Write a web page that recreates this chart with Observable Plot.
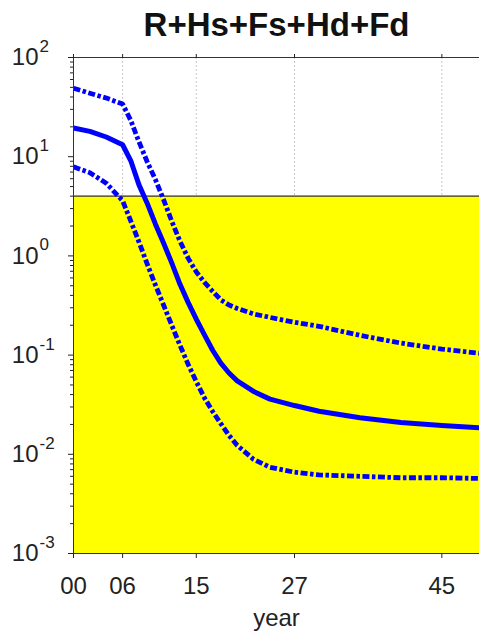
<!DOCTYPE html>
<html><head><meta charset="utf-8">
<script src="https://cdn.jsdelivr.net/npm/d3@7"></script>
<script src="https://cdn.jsdelivr.net/npm/@observablehq/plot@0.6"></script>
<style>body{margin:0;background:#fff;}</style>
</head><body><div id="chart"></div>
<script>
const title = "R+Hs+Fs+Hd+Fd";
const xLabel = "year";
const years  = [0, 2, 4, 6, 7, 8, 9, 10, 11, 12, 13, 14, 15, 16, 17, 18, 19, 20, 22, 24, 27, 30, 35, 40, 45, 50];
const upper  = [49, 43.6, 39, 34, 23.2, 14.1, 8.9, 5.9, 3.7, 2.24, 1.41, 0.95, 0.69, 0.54, 0.44, 0.36, 0.32, 0.295, 0.26, 0.24, 0.214, 0.195, 0.158, 0.132, 0.115, 0.1035];
const median = [19.5, 18.0, 15.8, 13.2, 9.1, 5.2, 3.4, 2.1, 1.35, 0.85, 0.52, 0.34, 0.23, 0.16, 0.112, 0.083, 0.066, 0.055, 0.043, 0.036, 0.031, 0.0272, 0.0234, 0.0209, 0.0195, 0.0184];
const lower  = [7.9, 6.9, 5.4, 3.6, 2.24, 1.38, 0.83, 0.51, 0.32, 0.20, 0.126, 0.081, 0.054, 0.037, 0.027, 0.0204, 0.0155, 0.0123, 0.0089, 0.0074, 0.0066, 0.0062, 0.0060, 0.0058, 0.0058, 0.0057];
const xTicks = [0, 6, 15, 27, 45];
const xTickLabels = ["00", "06", "15", "27", "45"];
const yExponents = [-3, -2, -1, 0, 1, 2];
const thresholdValue = 4;
const xMax = 49.6;

const series = [
  {name: "upper", values: upper},
  {name: "median", values: median},
  {name: "lower", values: lower}
];
const rows = series.flatMap(s => years.map((yr, i) => ({series: s.name, year: yr, value: s.values[i]})));
const yTicks = yExponents.map(e => 10 ** e);
const minorTicks = yExponents.slice(0, -1).flatMap(e => d3.range(2, 10).map(k => k * 10 ** e));
const font = "'Liberation Sans', Arial, Helvetica, sans-serif";
const ink = "#222";

const chart = Plot.plot({
  width: 479, height: 633,
  marginTop: 57, marginBottom: 80, marginLeft: 73, marginRight: 0,
  style: {fontFamily: font, background: "#fff", overflow: "visible"},
  x: {domain: [0, xMax]},
  y: {type: "log", domain: [1e-3, 1e2]},
  marks: [
    Plot.ruleX(xTicks.slice(1), {stroke: "#c8c8c8", strokeDasharray: "2,2", strokeWidth: 1}),
    Plot.rect([{x1: 0, x2: xMax, y1: 1e-3, y2: thresholdValue}], {x1: "x1", x2: "x2", y1: "y1", y2: "y2", fill: "#ffff00"}),
    Plot.ruleY([thresholdValue], {stroke: "#333", strokeWidth: 1.3}),
    Plot.line(rows.filter(d => d.series !== "median"), {x: "year", y: "value", z: "series", stroke: "#0000ff", strokeWidth: 4.8, strokeLinecap: "butt", strokeLinejoin: "round", strokeDasharray: "7,2.5,3.5,2.5", clip: true}),
    Plot.line(rows.filter(d => d.series === "median"), {x: "year", y: "value", stroke: "#0000ff", strokeWidth: 5, strokeLinejoin: "round", clip: true}),
    Plot.ruleY([1e2], {stroke: "#333"}),
    Plot.ruleY([1e-3], {stroke: "#333"}),
    Plot.ruleX([0], {stroke: "#333"}),
    Plot.axisX({ticks: xTicks, tickFormat: d => xTickLabels[xTicks.indexOf(d)], tickSize: 5, tickPadding: 18, fontSize: 24, label: null, color: ink}),
    Plot.axisX({anchor: "top", ticks: xTicks, tickFormat: () => "", tickSize: 4, label: null, color: ink}),
    Plot.axisY({ticks: yTicks, tickFormat: () => "", tickSize: 5, label: null, color: ink}),
    Plot.axisY({ticks: minorTicks, tickFormat: () => "", tickSize: 3, label: null, color: ink}),
    Plot.text(yTicks, {y: d => d, text: () => "10", frameAnchor: "left", textAnchor: "end", dx: -35, fontSize: 24, fill: ink, lineAnchor: "middle"}),
    Plot.text(yExponents, {y: e => 10 ** e, text: e => String(e), frameAnchor: "left", textAnchor: "start", dx: -34, dy: -11, fontSize: 17, fill: ink, lineAnchor: "middle"}),
    Plot.text([title], {frameAnchor: "top", dy: -22, lineAnchor: "bottom", fontSize: 33, fontWeight: "bold", fill: "#111"}),
    Plot.text([xLabel], {frameAnchor: "bottom", dy: 72, lineAnchor: "bottom", fontSize: 24, fill: ink})
  ]
});
document.getElementById("chart").append(chart);
</script>
</body></html>
